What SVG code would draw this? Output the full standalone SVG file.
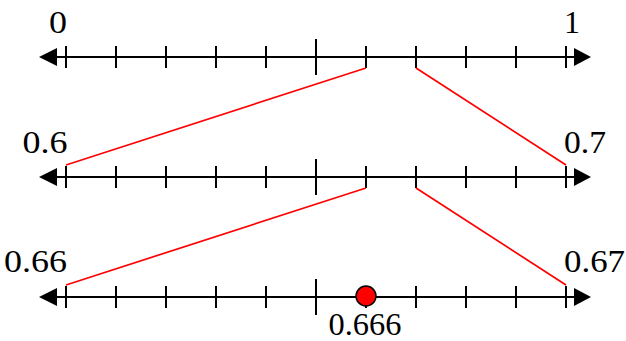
<svg xmlns="http://www.w3.org/2000/svg" width="626" height="341" viewBox="0 0 626 341">
<defs>
<style>
.axis{stroke:#000;stroke-width:2;fill:none}
.tick{stroke:#000;stroke-width:2}
.head{fill:#000;stroke:none}
.zoom{stroke:#ff0000;stroke-width:1.7;fill:none}
.lbl{fill:#000}
</style>
<g id="tk">
<path class="tick" d="M66,-11V11M116,-11V11M166,-11V11M216,-11V11M266,-11V11M316,-18V18M366,-11V11M416,-11V11M466,-11V11M516,-11V11M566,-11V11"/>
<path class="axis" d="M56,0H575"/>
<polygon class="head" points="39,0 57,-9 57,9"/>
<polygon class="head" points="591,0 574,-9 574,9"/>
</g>
</defs>
<rect width="626" height="341" fill="#fff"/>
<g font-family="Liberation Serif, Times New Roman, serif" font-size="32">
<g id="line1">
<use href="#tk" transform="translate(0,57)"/>
<text class="lbl" x="49" y="33" textLength="18" lengthAdjust="spacingAndGlyphs">0</text>
<text class="lbl" x="564" y="32.5">1</text>
</g>
<g id="line2">
<use href="#tk" transform="translate(0,177)"/>
<text class="lbl" x="22.5" y="153" textLength="45" lengthAdjust="spacingAndGlyphs">0.6</text>
<text class="lbl" x="564" y="153" textLength="42" lengthAdjust="spacingAndGlyphs">0.7</text>
</g>
<g id="line3">
<use href="#tk" transform="translate(0,297)"/>
<text class="lbl" x="4" y="272" textLength="63" lengthAdjust="spacingAndGlyphs">0.66</text>
<text class="lbl" x="564" y="272" textLength="61" lengthAdjust="spacingAndGlyphs">0.67</text>
</g>
<g id="connectors">
<path class="zoom" d="M366,68L66,165M416,68L566,165"/>
<path class="zoom" d="M366,188L66,285M416,188L566,285"/>
</g>
<g id="point">
<circle cx="366" cy="296" r="10" fill="#ff0000" stroke="#000" stroke-width="1.5"/>
<text class="lbl" x="328.5" y="335" textLength="73" lengthAdjust="spacingAndGlyphs">0.666</text>
</g>
</g>
</svg>
